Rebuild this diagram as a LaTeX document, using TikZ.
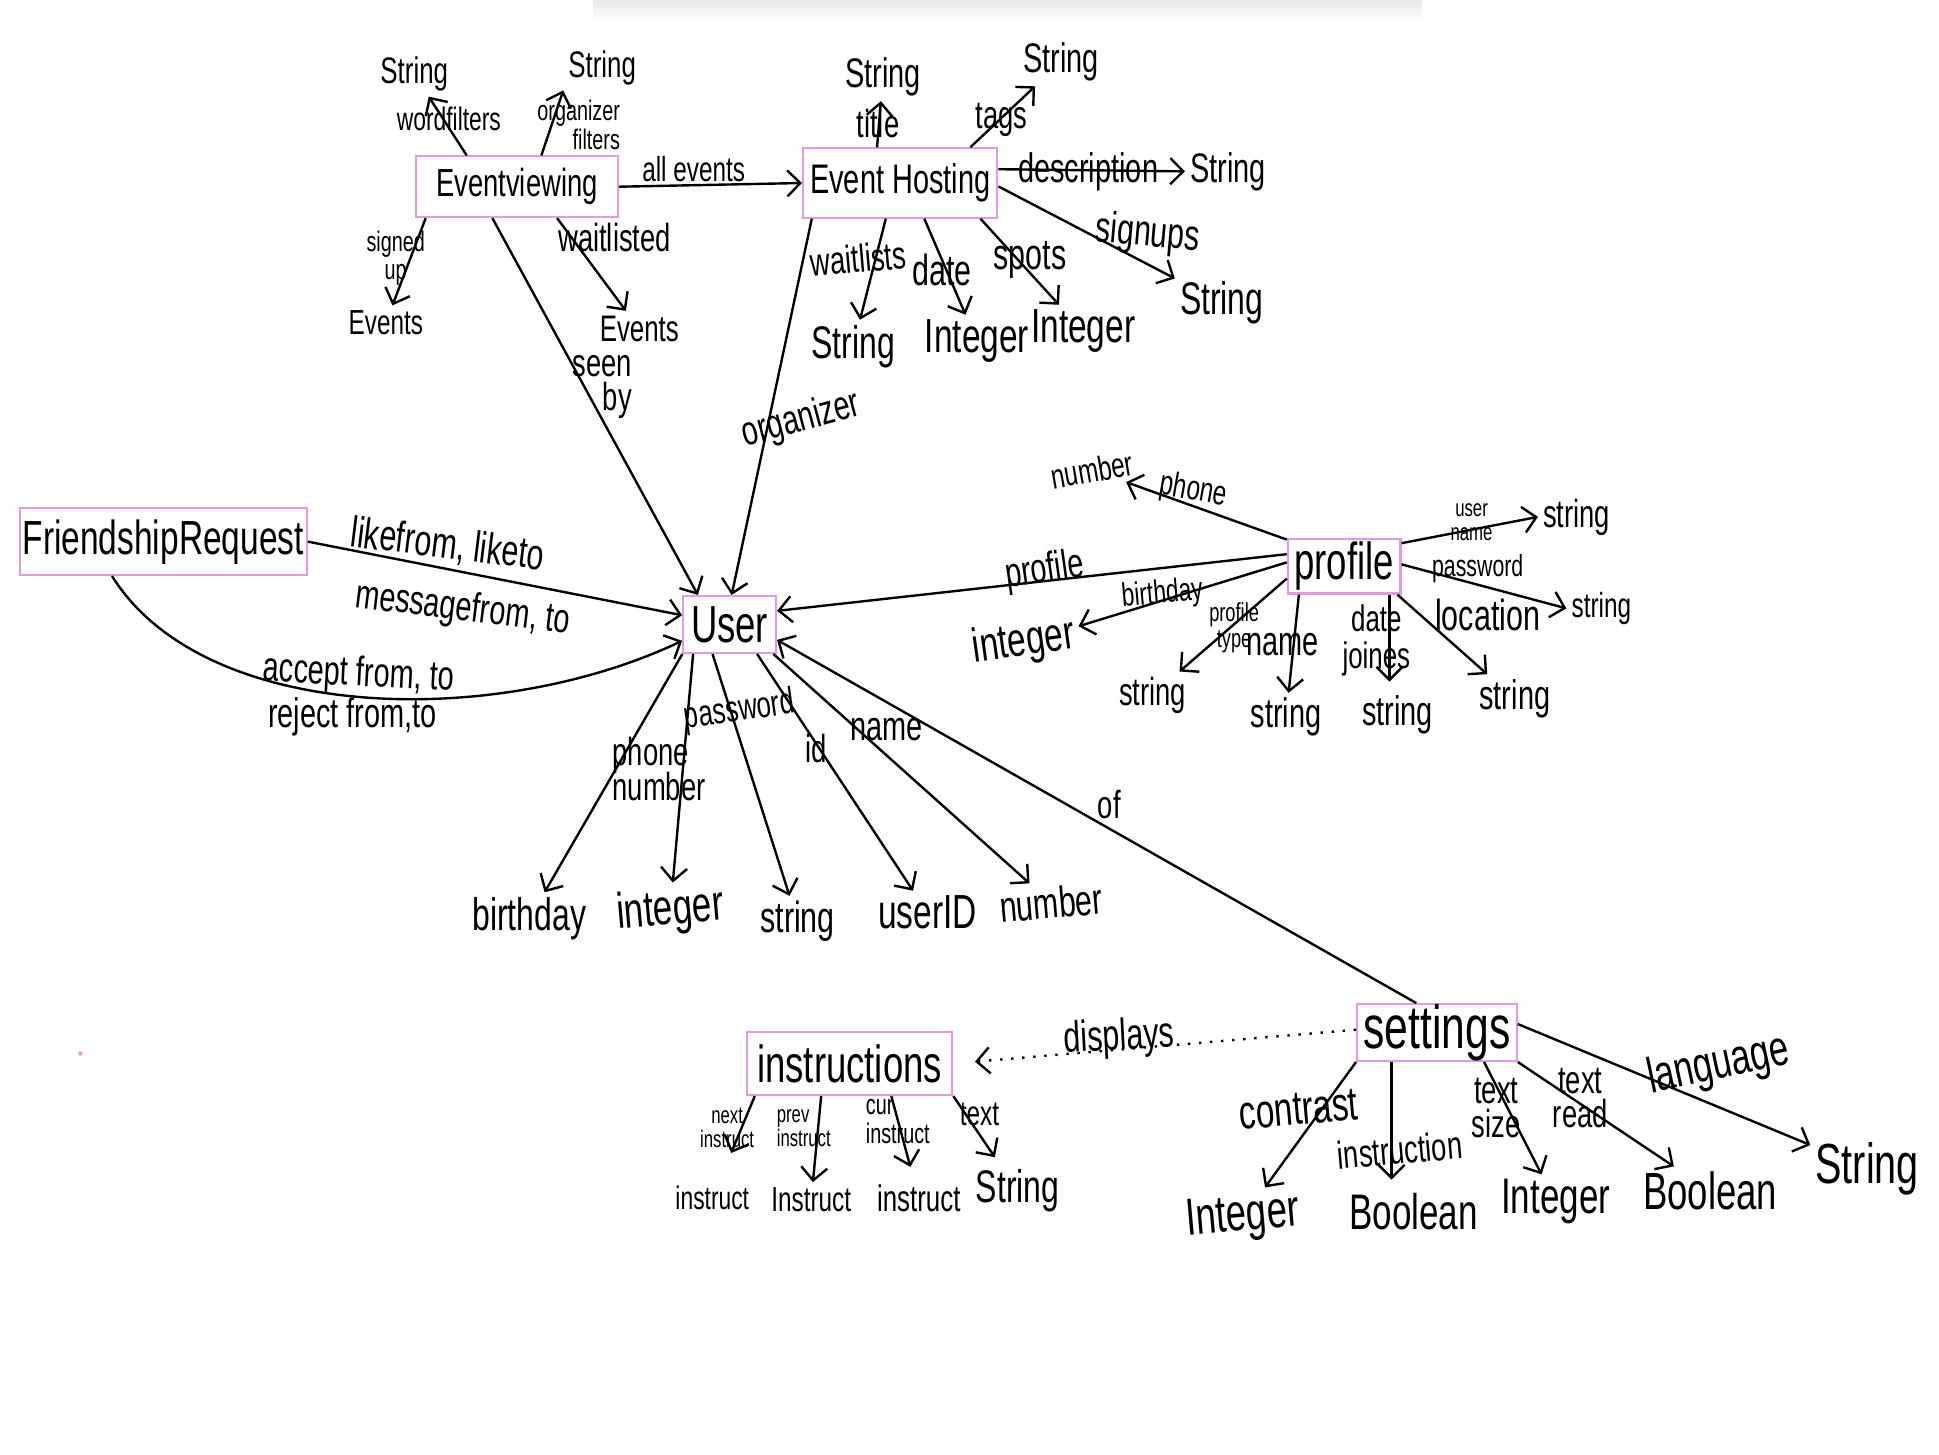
\documentclass[tikz,border=0pt]{standalone}
\usepackage{fontspec}
\setmainfont{Liberation Sans}[FakeStretch=0.7]
\usetikzlibrary{arrows.meta}
\definecolor{boxpink}{RGB}{226,152,226}
\newcommand{\hwsize}[1]{\fontsize{#1}{#1}\selectfont}

\begin{document}
\begin{tikzpicture}[
    x=0.01cm, y=-0.01cm,
    box/.style={draw=boxpink, line width=0.5pt, inner sep=0pt, font=\hwsize{#1}},
    txt/.style={inner sep=1pt, font=\hwsize{#1}},
    txt/.default=9,
    arr/.style={-{Straight Barb[length=3pt,width=6pt]}, line width=0.55pt}
]
\useasboundingbox (0,0) rectangle (1568,1176);
\shade[top color=black!9, bottom color=white] (480,0) rectangle (1150,16);
\fill[boxpink] (65,852) circle (0.5pt);

% entities
\node[box=9, minimum width=1.63cm, minimum height=0.49cm] (ev) at (418,151) {Eventviewing};
\node[box=9.5, minimum width=1.57cm, minimum height=0.56cm] (host) at (728,148) {Event Hosting};
\node[box=11, minimum width=2.32cm, minimum height=0.54cm] (fr) at (132,438) {FriendshipRequest};
\node[box=12, minimum width=0.75cm, minimum height=0.46cm] (user) at (590,505) {User};
\node[box=12, minimum width=0.91cm, minimum height=0.44cm] (prof) at (1087,458) {profile};
\node[box=14, minimum width=1.29cm, minimum height=0.44cm] (set) at (1162,835) {settings};
\node[box=12, minimum width=1.66cm, minimum height=0.51cm] (instr) at (687,860) {instructions};

% Eventviewing
\node[txt=8.5] (wfT) at (335,60) {String};
\node[txt=7.5] (wfL) at (363,96) {wordfilters};
\node[txt=8.5] (ofT) at (487,55) {String};
\node[txt=6.5, align=right] (ofL) at (468,101) {organizer\\filters};
\node[txt=6.5, align=center] (suL) at (320,209) {signed\\up};
\node[txt=8] (suT) at (312,261) {Events};
\node[txt=9] (wlL) at (497,192) {waitlisted};
\node[txt=8.5] (wlT) at (517,266) {Events};
\node[txt=8] (aeL) at (561,137) {all events};
\node[txt=9, align=right] (sbL) at (487,313) {seen\\[-1pt]by};

\draw[arr] (ev.148) -- (wfT);
\draw[arr] (ev.52) -- (ofT.south west);
\draw[arr] (ev.-161) -- (suT);
\draw[arr] (ev.-38) -- (wlT);
\draw[arr] (ev.east) -- (host.west);
\draw[arr] (ev.-128) -- (user.137);

% Event Hosting
\node[txt=9.5] (tiT) at (714,62) {String};
\node[txt=9] (tiL) at (710,100) {title};
\node[txt=9.5] (tgT) at (858,50) {String};
\node[txt=9] (tgL) at (810,97) {tags};
\node[txt=9.5] (deL) at (880,139) {description};
\node[txt=9.5] (deT) at (993,139) {String};
\node[txt=10, rotate=-5] (sgL) at (928,190) {signups};
\node[txt=10.5] (sgT) at (988,245) {String};
\node[txt=9, rotate=5] (waL) at (694,209) {waitlists};
\node[txt=10.5] (waT) at (690,280) {String};
\node[txt=10] (daL) at (762,218) {date};
\node[txt=11] (daT) at (790,276) {Integer};
\node[txt=10] (spL) at (833,210) {spots};
\node[txt=11] (spT) at (876,268) {Integer};
\node[txt=9.5, rotate=15] (orL) at (648,340) {organizer};

\draw[arr] (host.123) -- (tiT);
\draw[arr] (host.27) -- (tgT);
\draw[arr] (host.8) -- (deT);
\draw[arr] (host.-2) -- (sgT);
\draw[arr] (host.-112) -- (waT);
\draw[arr] (host.-56) -- (daT);
\draw[arr] (host.-24) -- (spT);
\draw[arr] (host.-158) -- (user.86);

% FriendshipRequest
\node[txt=10, rotate=-7] (lkL) at (362,441) {likefrom, liketo};
\node[txt=9.5, rotate=-7] (msL) at (374,493) {messagefrom, to};
\node[txt=9.5, rotate=-3] (acL) at (290,546) {accept from, to};
\node[txt=9.5] (rjL) at (285,580) {reject from,to};

\draw[arr] (fr.east) -- (user.169);
\draw[arr] (fr.-146) .. controls (165,585) and (400,590) .. (user.-161);

% User
\node[txt=10.5] (bdT) at (428,743) {birthday};
\node[txt=11.5, rotate=5] (inT) at (542,737) {integer};
\node[txt=10] (stT) at (645,745) {string};
\node[txt=11] (uiT) at (750,738) {userID};
\node[txt=10, rotate=5] (nuT) at (850,730) {number};
\node[txt=9, align=left] (pnL) at (533,622) {phone\\[-1pt]number};
\node[txt=8.5, rotate=8] (pwL) at (598,575) {password};
\node[txt=9] (idL) at (660,605) {id};
\node[txt=9.5] (nmL) at (717,590) {name};
\node[txt=9] (ofL2) at (897,651) {of};

\draw[arr] (user.-148) -- (bdT);
\draw[arr] (user.-141) -- (inT);
\draw[arr] (user.-120) -- (stT);
\draw[arr] (user.-47) -- (uiT);
\draw[arr] (user.-34) -- (nuT);

% profile
\node[txt=8, rotate=-10] (phL) at (965,397) {phone};
\node[txt=8, rotate=10] (pnT) at (883,380) {number};
\node[txt=9.5, rotate=8] (prL) at (845,462) {profile};
\node[txt=7.5, rotate=5] (pbL) at (940,481) {birthday};
\node[txt=11, rotate=8] (pbT) at (828,520) {integer};
\node[txt=6, align=center] (ptL) at (998,508) {profile\\type};
\node[txt=9] (ptT) at (932,562) {string};
\node[txt=9.5] (pmL) at (1037,521) {name};
\node[txt=9.5] (pmT) at (1040,580) {string};
\node[txt=8.5, align=center] (pdL) at (1113,518) {date\\joines};
\node[txt=9.5] (pdT) at (1130,578) {string};
\node[txt=10] (plL) at (1203,497) {location};
\node[txt=9.5] (plT) at (1225,565) {string};
\node[txt=5.5, align=center] (puL) at (1190,422) {user\\name};
\node[txt=9] (puT) at (1275,418) {string};
\node[txt=7] (ppL) at (1195,460) {password};
\node[txt=8] (ppT) at (1295,492) {string};

\draw[arr] (prof.168) -- (user.16);
\draw[arr] (prof.155) -- (pnT);
\draw[arr] (prof.176) -- (pbT);
\draw[arr] (prof.-168) -- (ptT);
\draw[arr] (prof.-148) -- (pmT);
\draw[arr, shorten >=2pt] (prof.-32) -- (prof.-32 |- pdT.north);
\draw[arr] (prof.-28) -- (plT);
\draw[arr] (prof.22) -- (puT.west);
\draw[arr] (prof.2) -- (ppT.west);

% settings
\node[txt=10, rotate=3] (dpL) at (905,840) {displays};
\node[txt=11, rotate=5] (coL) at (1050,897) {contrast};
\node[txt=9, rotate=5] (isL) at (1132,930) {instruction};
\node[txt=12, rotate=5] (scT) at (1005,985) {Integer};
\node[txt=11.5] (siT) at (1143,980) {Boolean};
\node[txt=9, align=center] (tsL) at (1210,896) {text\\[-1pt]size};
\node[txt=11.5] (szT) at (1258,972) {Integer};
\node[txt=9, align=center] (trL) at (1278,888) {text\\[-1pt]read};
\node[txt=12] (srT) at (1383,963) {Boolean};
\node[txt=11.5, rotate=12] (lgL) at (1390,862) {language};
\node[txt=13] (slT) at (1510,945) {String};

\draw[arr, dotted, shorten >=5pt] (set.178) -- (instr.east);
\draw[arr] (set.125) -- (user.-18);
\draw[arr] (set.south west) -- (scT);
\draw[arr, shorten >=2pt] (set.-147) -- (set.-147 |- siT.north);
\draw[arr] (set.-32) -- (szT);
\draw[arr] (set.-20) -- (srT);
\draw[arr] (set.6) -- (slT);

% instructions
\node[txt=5.5, align=center] (nxL) at (588,912) {next\\instruct};
\node[txt=5.5, align=left] (pvL) at (650,912) {prev\\instruct};
\node[txt=6.5, align=left] (cuL) at (726,907) {cur\\instruct};
\node[txt=8] (txL) at (792,901) {text};
\node[txt=7.5] (inxT) at (576,969) {instruct};
\node[txt=8] (inpT) at (656,970) {Instruct};
\node[txt=8.5] (incT) at (743,969) {instruct};
\node[txt=10.5] (intT) at (823,963) {String};

\draw[arr, shorten >=7pt] (instr.-161) -- (inxT);
\draw[arr] (instr.-131) -- (inpT);
\draw[arr, shorten >=3pt] (instr.-38) -- (incT);
\draw[arr, shorten >=2pt] (instr.south east) -- (intT);
\end{tikzpicture}
\end{document}
